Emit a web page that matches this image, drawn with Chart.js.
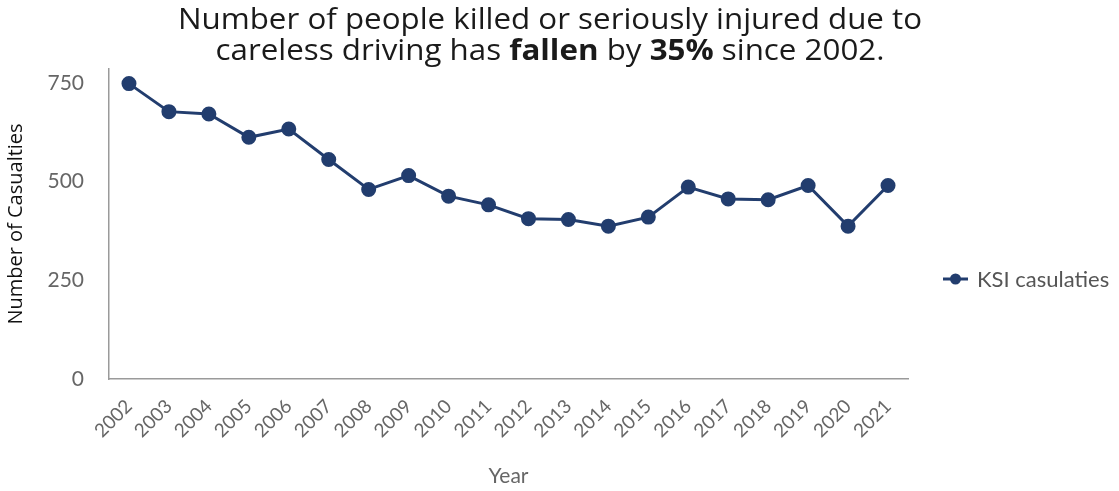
<!DOCTYPE html>
<html>
<head>
<meta charset="utf-8">
<script src="https://cdn.jsdelivr.net/npm/chart.js@4.4.1/dist/chart.umd.min.js"></script>
<style>
  html, body { margin: 0; padding: 0; background: #fff; }
  #wrap { position: relative; width: 1119px; height: 491px; overflow: hidden; }
  #title {
    position: absolute; left: 0; top: 2px; width: 1100px; text-align: center;
    font-family: "Open Sans", sans-serif; font-size: 29px; line-height: 31px; color: #1a1a1a;
    transform: scaleX(1.08); transform-origin: 550px 0;
  }
  #title b { font-weight: 700; }
  canvas { position: absolute; left: 0; top: 0; }
</style>
</head>
<body>
<div id="wrap">
  <canvas id="chart" width="1119" height="491"></canvas>
  <div id="title">Number of people killed or seriously injured due to<br>careless driving has <b>fallen</b> by <b>35%</b> since 2002.</div>
</div>
<script>
// Killed or seriously injured (KSI) casualties from careless driving, by year
const years = ['2002','2003','2004','2005','2006','2007','2008','2009','2010','2011',
               '2012','2013','2014','2015','2016','2017','2018','2019','2020','2021'];
const ksiCasualties = [748, 677, 671, 612, 633, 556, 480, 515, 463, 441,
                       406, 404, 387, 410, 486, 456, 454, 490, 387, 490];
const yTicks = [0, 250, 500, 750];
const seriesLabel = 'KSI casulaties';

const navy = '#223d6e';
const grey = '#666666';

// Legend entry: a short line with a dot, followed by the series name
const sideLegend = {
  id: 'sideLegend',
  afterDraw(chart) {
    const ctx = chart.ctx;
    const ds = chart.data.datasets[0];
    const y = 279;
    ctx.save();
    ctx.strokeStyle = ds.borderColor;
    ctx.lineWidth = 3;
    ctx.beginPath();
    ctx.moveTo(943, y);
    ctx.lineTo(968, y);
    ctx.stroke();
    ctx.fillStyle = ds.pointBackgroundColor;
    ctx.beginPath();
    ctx.arc(955.5, y, 5.5, 0, Math.PI * 2);
    ctx.fill();
    ctx.fillStyle = '#555555';
    ctx.font = '22px Lato';
    ctx.textBaseline = 'middle';
    ctx.fillText(ds.label, 977, y + 1);
    ctx.restore();
  }
};

new Chart(document.getElementById('chart'), {
  type: 'line',
  data: {
    labels: years,
    datasets: [{
      label: seriesLabel,
      data: ksiCasualties,
      borderColor: navy,
      backgroundColor: navy,
      pointBackgroundColor: navy,
      pointBorderColor: navy,
      borderWidth: 3,
      pointRadius: 6,
      tension: 0
    }]
  },
  options: {
    responsive: false,
    animation: false,
    layout: { padding: { top: 69, right: 211, left: 0, bottom: 0 } },
    plugins: {
      legend: { display: false },
      tooltip: { enabled: false }
    },
    scales: {
      x: {
        offset: true,
        grid: { display: false, drawTicks: false },
        border: { display: true, color: '#9a9a9a', width: 1.5 },
        ticks: {
          color: grey, font: { family: 'Lato', size: 19 },
          minRotation: 45, maxRotation: 45, padding: 16, autoSkip: false
        },
        title: {
          display: true, text: 'Year', color: grey,
          font: { family: 'Lato', size: 21 }, padding: { top: 0, bottom: 2 }
        },
        afterFit(axis) { axis.height = 112; }
      },
      y: {
        min: 0, max: 785,
        grid: { display: false, drawTicks: false },
        border: { display: true, color: '#9a9a9a', width: 1.5 },
        afterBuildTicks(axis) { axis.ticks = yTicks.map(v => ({ value: v })); },
        ticks: { color: grey, font: { family: 'Lato', size: 21 }, padding: 25 },
        title: {
          display: true, text: 'Number of Casualties', color: '#111111',
          font: { family: 'Open Sans', size: 20 }, padding: { top: 4, bottom: 0 }
        },
        afterFit(axis) { axis.width = 109; }
      }
    }
  },
  plugins: [sideLegend]
});
</script>
</body>
</html>
